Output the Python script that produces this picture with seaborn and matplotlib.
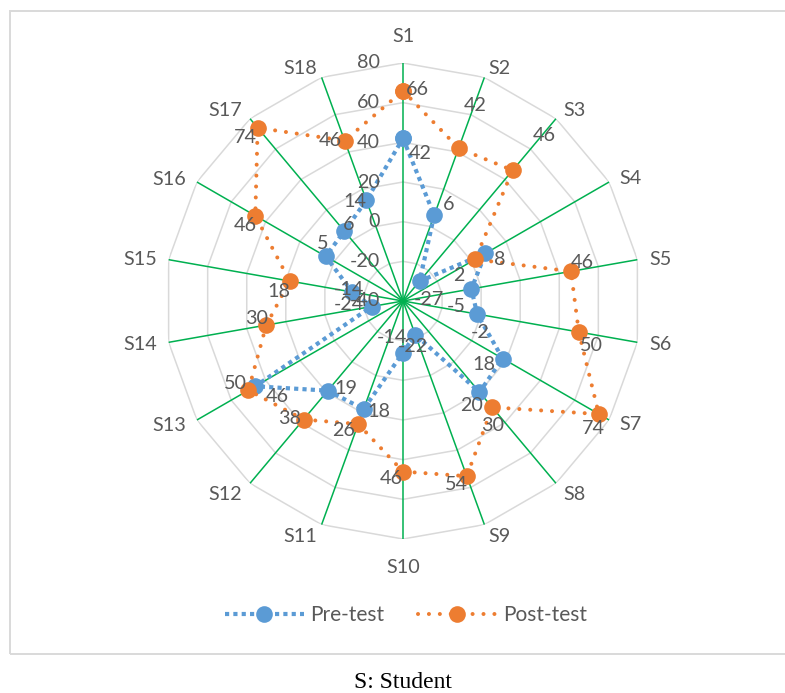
import numpy as np
import pandas as pd
import matplotlib
matplotlib.use("Agg")
import matplotlib.pyplot as plt
from matplotlib.lines import Line2D
from matplotlib.patches import Rectangle
import seaborn as sns

# Scores per student
students = [f"S{i}" for i in range(1, 19)]
pre_test = [42, 6, -27, 8, -5, -2, 18, 20, -22, -14, 18, 19, 46, -24, -14, 5, 6, 14]
post_test = [66, 42, 46, 2, 46, 50, 74, 30, 54, 46, 26, 38, 50, 30, 18, 46, 74, 46]
ring_values = [-40, -20, 0, 20, 40, 60, 80]

# Data-label nudges in pixels (right, down) relative to each marker
pre_nudge = [(17, 15), (14, -11), (9, 18), (14, 6), (-15, 18), (3, 18), (-19, 6),
             (-8, 13), (-2, 12), (-11, -15), (15, 2), (18, -2), (22, 10), (-23, -2),
             (-3, -3), (-3, -13), (4, -7), (-12, 1)]
post_nudge = [(14, -1), (17, -43), (32, -35), (-16, 16), (11, -9), (13, 14), (-5, 14),
              (0, 18), (-10, 8), (-12, 7), (-15, 6), (-14, -1), (-13, -7), (-10, -7),
              (-11, 10), (-10, 10), (-12, 10), (-14, 0)]

BLUE = "#5B9BD5"
ORANGE = "#ED7D31"
GREEN = "#00B050"
GRID = "#D9D9D9"
TEXT = "#595959"
FS = 14.2

sns.set_style("white")
plt.rcParams["font.family"] = ["Lato", "DejaVu Sans"]

W, H = 785, 693
PX = 72 / 100  # pixels -> points
fig = plt.figure(figsize=(W / 100, H / 100), dpi=100)

cx, cy, R = 403, 301, 238
ax = fig.add_axes([(cx - R) / W, (H - cy - R) / H, 2 * R / W, 2 * R / H], projection="polar")
ax.set_theta_zero_location("N")
ax.set_theta_direction(-1)
ax.set_ylim(ring_values[0], ring_values[-1])
ax.grid(False)
ax.set_xticks([])
ax.set_yticks([])
ax.spines["polar"].set_visible(False)
ax.patch.set_alpha(0)

n = len(students)
theta = np.arange(n) * 2 * np.pi / n
loop = np.append(theta, theta[0])

# Polygon grid rings and green spokes
for v in ring_values[1:]:
    ax.plot(loop, [v] * (n + 1), color=GRID, lw=1.1, zorder=1)
for t in theta:
    ax.plot([t, t], [ring_values[0], ring_values[-1]], color=GREEN, lw=1.1, zorder=2)


def series_frame(values):
    return pd.DataFrame({"theta": loop, "score": list(values) + [values[0]]})


sns.lineplot(data=series_frame(pre_test), x="theta", y="score", ax=ax, sort=False,
             estimator=None, color=BLUE, lw=3.0, linestyle=(0, (1, 1)),
             dash_capstyle="butt", marker="o", markersize=12, markeredgewidth=0,
             legend=False, zorder=4)
sns.lineplot(data=series_frame(post_test), x="theta", y="score", ax=ax, sort=False,
             estimator=None, color=ORANGE, lw=2.9, linestyle=(0, (0.01, 2.7)),
             dash_capstyle="round", marker="o", markersize=12, markeredgewidth=0,
             legend=False, zorder=5)
ax.set_xlabel("")
ax.set_ylabel("")

# Value labels
for vals, nudges in ((pre_test, pre_nudge), (post_test, post_nudge)):
    for t, v, (dx, dy) in zip(theta, vals, nudges):
        ax.annotate(f"{v}", xy=(t, v), xytext=(dx * PX, -dy * PX), textcoords="offset points",
                    ha="center", va="center", fontsize=FS, color=TEXT, zorder=7,
                    annotation_clip=False)

# Radial axis labels along the S1 spoke
for v in ring_values:
    ax.annotate(f"{v}", xy=(0, v), xytext=(-23 * PX, 0), textcoords="offset points",
                ha="right", va="center", fontsize=FS, color=TEXT, zorder=6,
                annotation_clip=False)

# Category labels around the rim
for t, name in zip(theta, students):
    s, c = np.sin(t), np.cos(t)
    if abs(s) < 0.01:
        ha = "center"
        va = "bottom" if c > 0 else "top"
        dx, dy = 0, (-18 if c > 0 else 20)
    else:
        ha = "left" if s > 0 else "right"
        dx = 12 * s
        if c > 0.7:
            va, dy = "bottom", 0
        elif c < -0.7:
            va, dy = "top", 3
        else:
            va, dy = "center", -8 * c + 1
    ax.annotate(name, xy=(t, ring_values[-1]), xytext=(dx * PX, -dy * PX),
                textcoords="offset points", ha=ha, va=va, fontsize=FS, color=TEXT,
                annotation_clip=False)

# Legend
handles = [
    Line2D([], [], color=BLUE, lw=3.0, linestyle=(0, (1, 1)), dash_capstyle="butt",
           marker="o", markersize=12, markeredgewidth=0),
    Line2D([], [], color=ORANGE, lw=2.9, linestyle=(0, (0.01, 2.7)), dash_capstyle="round",
           marker="o", markersize=12, markeredgewidth=0),
]
fig.legend(handles, ["Pre-test", "Post-test"], loc="center",
           bbox_to_anchor=(406 / W, 1 - 615 / H), ncol=2, frameon=False, fontsize=15,
           handlelength=3.8, columnspacing=1.6, handletextpad=0.3, labelcolor=TEXT)

# Chart frame
fig.add_artist(Rectangle((10 / W, 1 - 654 / H), 1.0, (654 - 11) / H, fill=False,
                         edgecolor=GRID, lw=1.4, transform=fig.transFigure))

fig.text(403 / W, 1 - 683 / H, "S: Student", ha="center", va="center",
         family="Liberation Serif", fontsize=17, color="black")

fig.savefig("out.png", dpi=100)
